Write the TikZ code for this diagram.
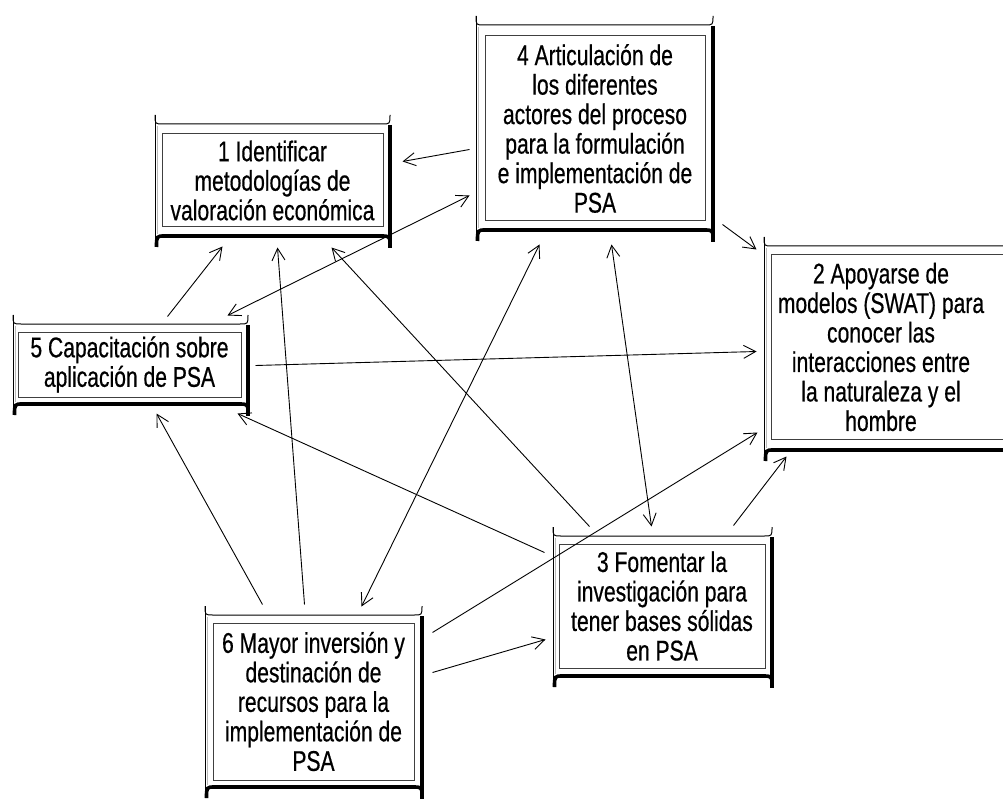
\documentclass[tikz,border=0pt]{standalone}
\usepackage{fontspec}
\setmainfont{Liberation Sans}[FakeStretch=0.74,FakeBold=0.5]
\usetikzlibrary{arrows.meta,calc}
\newcommand\boxfont{\fontsize{28.5}{29.5}\selectfont}
\tikzset{
  framethin/.style={line width=1pt,black},
  framethick/.style={line width=3.6pt,black},
  frameshadow/.style={line width=0.8pt,gray!55},
  innerline/.style={line width=1pt,draw=gray!50!black},
  inner/.style={innerline,rectangle,inner sep=0pt,align=center,font=\boxfont},
  tipV/.tip={Straight Barb[length=12pt,width=13pt,line width=0.9pt]},
  conn/.style={line width=0.9pt,-tipV},
  conn2/.style={line width=0.9pt,tipV-tipV},
}
\newcommand\scrollframe[4]{% L T R B  (px, y down)
  \draw[frameshadow] (#1+2.5,#2+2) -- (#1+2.5,#4-2);
  \draw[framethin] (#1,#2-9) -- (#1,#4+11);
  \draw[framethin] (#1,#2-9) .. controls (#1,#2) .. (#1+8,#2) -- (#3-8,#2) .. controls (#3,#2) .. (#3,#2-9);
  \draw[framethick] (#3,#2+1) -- (#3,#4+12);
  \draw[framethick] (#1+1.5,#4+11) .. controls (#1+1.5,#4) .. (#1+10,#4) -- (#3-10,#4) .. controls (#3,#4) .. (#3,#4+9);
}
\begin{document}
\begin{tikzpicture}[x=1pt,y=-1pt]
\useasboundingbox (0,0) rectangle (1003,799);
\clip (0,0) rectangle (1003,799);
\fill[white] (0,0) rectangle (1003,799);

% frames
\scrollframe{155}{124}{390}{236}
\scrollframe{476}{25}{713}{230}
\scrollframe{764}{246}{1020}{450}
\scrollframe{13}{324}{248}{404}
\scrollframe{553}{536}{772}{676}
\scrollframe{205}{615}{422}{787}

% boxes
\node[inner,draw,minimum width=221pt,minimum height=93pt] (b1) at (272.5,180.5)
  {1 Identificar\\metodologías de\\valoración económica};
\node[inner,draw,minimum width=220pt,minimum height=185pt] (b4) at (595,128.5)
  {4 Articulación de\\los diferentes\\actores del proceso\\para la formulación\\e implementación de\\PSA};
\node[inner,draw=none,minimum width=218pt,minimum height=184pt] (b2) at (881,347)
  {2 Apoyarse de\\modelos (SWAT) para\\conocer las\\interacciones entre\\la naturaleza y el\\hombre};
\draw[innerline] (b2.north west) rectangle ($(b2.south east)+(16,0)$);
\node[inner,draw,minimum width=223pt,minimum height=65pt] (b5) at (129.5,364.5)
  {5 Capacitación sobre\\aplicación de PSA};
\node[inner,draw,minimum width=206pt,minimum height=124pt] (b3) at (662,606)
  {3 Fomentar la\\investigación para\\tener bases sólidas\\en PSA};
\node[inner,draw,minimum width=201pt,minimum height=157pt] (b6) at (313.5,701.5)
  {6 Mayor inversión y\\destinación de\\recursos para la\\implementación de\\PSA};

% connectors
\draw[conn]  ($(b4.north west)+(-15,114)$) -- ($(b1.north east)+(19,28)$);
\draw[conn]  ($(b5.north west)+(150,-15)$) -- ($(b1.south west)+(61,19)$);
\draw[conn2] ($(b5.north east)+(-14,-16)$) -- ($(b4.south west)+(-15,-26)$);
\draw[conn]  ($(b6.north west)+(92,-18)$) -- ($(b1.south west)+(116,20)$);
\draw[conn]  ($(b6.north west)+(50,-18)$) -- ($(b5.south west)+(139,16)$);
\draw[conn2] ($(b6.north west)+(149,-16)$) -- ($(b4.south west)+(55,23)$);
\draw[conn]  ($(b3.north west)+(31,-17)$) -- ($(b1.south west)+(170,20)$);
\draw[conn]  ($(b3.north west)+(-14,9)$) -- ($(b5.south east)+(-4,16)$);
\draw[conn2] ($(b3.north west)+(93,-17)$) -- ($(b4.south west)+(127,23)$);
\draw[conn]  ($(b6.north east)+(18,10)$) -- ($(b2.south west)+(-14,-7)$);
\draw[conn]  ($(b6.north east)+(18,50)$) -- ($(b3.north west)+(-13,96)$);
\draw[conn]  ($(b3.north east)+(-32,-18)$) -- ($(b2.south west)+(15,17)$);
\draw[conn]  ($(b5.north east)+(14,34)$) -- ($(b2.north west)+(-15,97)$);
\draw[conn]  ($(b4.south east)+(17,3)$) -- ($(b2.north west)+(-15,-5)$);
\end{tikzpicture}
\end{document}
